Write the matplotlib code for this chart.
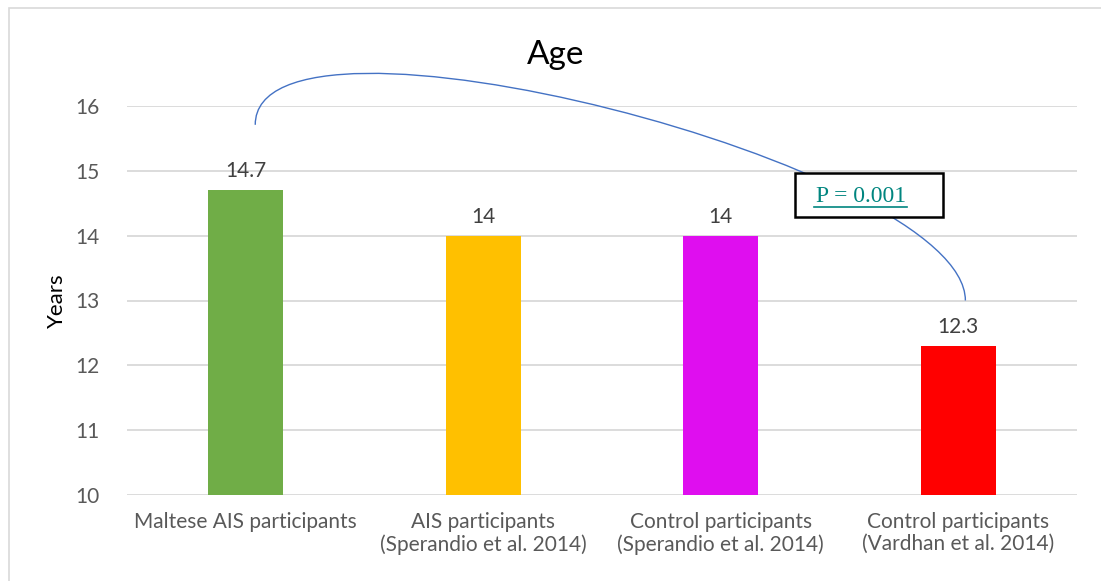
import matplotlib.pyplot as plt
import numpy as np
from matplotlib.patches import Rectangle, PathPatch
from matplotlib.path import Path

groups = ["Maltese AIS participants",
          "AIS participants\n(Sperandio et al. 2014)",
          "Control participants\n(Sperandio et al. 2014)",
          "Control participants\n(Vardhan et al. 2014)"]
ages = [14.7, 14, 14, 12.3]
bar_colors = ["#70AD47", "#FFC000", "#DF0EEF", "#FF0000"]
y_ticks = [10, 11, 12, 13, 14, 15, 16]
p_label = "P = 0.001"

plt.rcParams["font.family"] = ["Lato", "DejaVu Sans"]

fig = plt.figure(figsize=(11.01, 5.81), dpi=100)
fig.patches.append(Rectangle((9 / 1101, -0.1), 1.2, 1.1 - 8 / 581,
                             transform=fig.transFigure, fill=False,
                             edgecolor="#D9D9D9", linewidth=1.2))
ax = fig.add_axes([127 / 1101, 1 - 495 / 581, 950 / 1101, 389 / 581])

x = np.arange(len(groups))
ax.bar(x, ages, width=0.315, color=bar_colors, zorder=2)
for xi, v in zip(x, ages):
    ax.text(xi, v + 0.14, f"{v:g}", ha="center", va="bottom",
            fontsize=15, color="#404040")

ax.set_xlim(-0.5, len(groups) - 0.5)
ax.set_ylim(10, 16)
ax.set_yticks(y_ticks)
ax.set_xticks(x)
ax.set_xticklabels(groups, fontsize=15, color="#595959", linespacing=1.15)
ax.tick_params(axis="y", labelsize=15, labelcolor="#595959", length=0, pad=20)
ax.tick_params(axis="x", length=0, pad=12)
ax.grid(axis="y", color="#D9D9D9", linewidth=1.3, zorder=0)
for s in ax.spines.values():
    s.set_visible(False)
ax.set_ylabel("Years", fontsize=16, color="black", labelpad=6)
fig.text(0.505, 1 - 55 / 581, "Age", ha="center", va="center", fontsize=24)

# curved connector between the first and last bars
x0, y0 = x[0] + 0.04, ages[0] + 1.01
x3, y3 = x[-1] + 0.03, ages[-1] + 0.7
verts = [(x0, y0), (x0, 17.9), (x3, 15.08), (x3, y3)]
curve = Path(verts, [Path.MOVETO, Path.CURVE4, Path.CURVE4, Path.CURVE4])
ax.add_patch(PathPatch(curve, facecolor="none", edgecolor="#4472C4",
                       linewidth=1.0, clip_on=False, zorder=3))

# p-value box
ax.add_patch(Rectangle((2.313, 14.287), 0.623, 0.679, facecolor="white",
                       edgecolor="black", linewidth=1.8, zorder=4))
tx, ty = 2.59, 14.6
ax.text(tx, ty, p_label, ha="center", va="center", fontsize=17,
        family="Liberation Serif", color="#00857F", zorder=5)
ax.plot([tx - 0.196, tx + 0.196], [14.44, 14.44], color="#00857F",
        linewidth=1.2, zorder=6)

fig.savefig("out.png", dpi=100)
